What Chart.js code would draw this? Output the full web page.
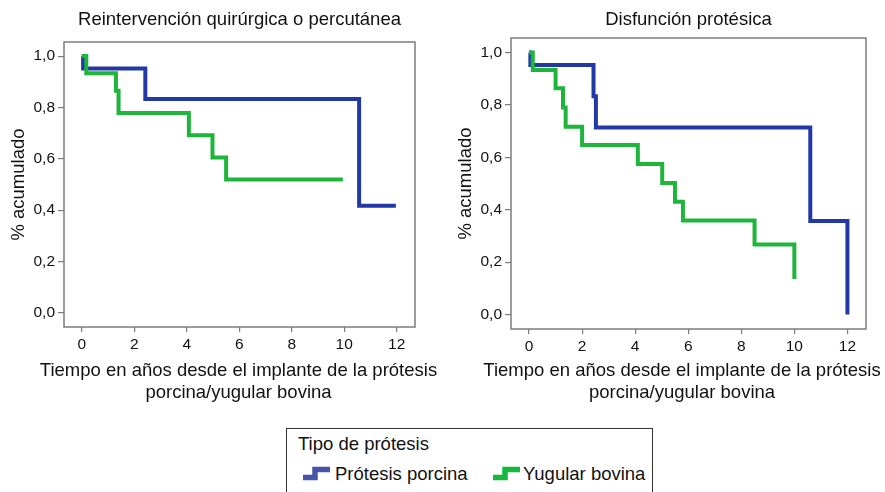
<!DOCTYPE html>
<html>
<head>
<meta charset="utf-8">
<script src="https://cdn.jsdelivr.net/npm/chart.js@4.4.1/dist/chart.umd.min.js"></script>
<style>
  body { margin: 0; background: #fff; }
  #wrap { position: relative; width: 885px; height: 492px; overflow: hidden;
          font-family: 'Liberation Sans', Arial, sans-serif; color: #111; }
  #wrap canvas { position: absolute; top: 0; }
  #legend { position: absolute; left: 286px; top: 428px; width: 365px; height: 90px;
            border: 1px solid #333; font-size: 18.5px; line-height: 22px; }
  #legend .lg-title { position: absolute; left: 11px; top: 3.6px; }
  #legend .lg-item { position: absolute; top: 33.6px; white-space: nowrap; }
  #legend svg { position: absolute; top: 37px; }
</style>
</head>
<body>
<div id="wrap">
  <canvas id="chart-reint" width="442" height="410" style="left:0px"></canvas>
  <canvas id="chart-disf" width="443" height="410" style="left:442px"></canvas>
  <div id="legend"><div class="lg-title">Tipo de prótesis</div></div>
</div>
<script>
const xTicks = [0, 2, 4, 6, 8, 10, 12];
const yTicks = [0, 0.2, 0.4, 0.6, 0.8, 1.0];
const seriesNames = ["Prótesis porcina", "Yugular bovina"];
const xTitleLines = ["Tiempo en años desde el implante de la prótesis", "porcina/yugular bovina"];

// Reintervención quirúrgica o percutánea
const reintPorcinaT = [0, 0.05, 2.42, 10.57, 11.97];
const reintPorcinaS = [1, 0.952, 0.833, 0.417, 0.417];
const reintYugularT = [0, 0.17, 1.3, 1.4, 4.08, 4.98, 5.5, 9.95];
const reintYugularS = [1, 0.933, 0.865, 0.778, 0.692, 0.605, 0.519, 0.519];

// Disfunción protésica
const disfPorcinaT = [0, 0.05, 2.43, 2.52, 10.6, 12.0];
const disfPorcinaS = [1, 0.952, 0.833, 0.714, 0.357, 0];
const disfYugularT = [0, 0.14, 1.0, 1.28, 1.38, 2.0, 4.1, 5.02, 5.5, 5.8, 8.5, 10.0];
const disfYugularS = [1, 0.933, 0.863, 0.79, 0.716, 0.647, 0.574, 0.502, 0.43, 0.359, 0.267, 0.136];

const BLUE = "#2238a5";
const GREEN = "#1fb53a";
const legendColors = ["#4655aa", "#14b93c"];
const TEXT = "#111";
const FRAME = "#7c7c7c";
const FONT = "'Liberation Sans', Arial, sans-serif";

Chart.defaults.font.family = FONT;
Chart.defaults.color = TEXT;

function kmPoints(t, s) {
    return t.map((x, i) => ({ x: x, y: s[i] }));
}

// box around the plot area
const framePlugin = {
    id: "frame",
    beforeDatasetsDraw(chart) {
        let a = chart.chartArea;
        let ctx = chart.ctx;
        ctx.save();
        ctx.strokeStyle = FRAME;
        ctx.lineWidth = 1.5;
        ctx.strokeRect(a.left, a.top, a.right - a.left, a.bottom - a.top);
        ctx.restore();
    }
};

// x axis title drawn without the scale's width limit (it is wider than the plot)
const xTitlePlugin = {
    id: "xTitle",
    afterDraw(chart, args, opts) {
        let ctx = chart.ctx;
        ctx.save();
        ctx.font = "18.5px " + FONT;
        ctx.fillStyle = TEXT;
        ctx.textAlign = "center";
        ctx.textBaseline = "middle";
        opts.lines.forEach((line, i) => {
            ctx.fillText(line, opts.x, opts.y + i * 22);
        });
        ctx.restore();
    }
};

function lineDataset(label, data, color, order) {
    return {
        label: label,
        data: data,
        borderColor: color,
        borderWidth: 4,
        stepped: "before",
        pointRadius: 0,
        fill: false,
        borderCapStyle: "butt",
        borderJoinStyle: "miter",
        order: order
    };
}

function makeChart(id, title, porcina, yugular, g) {
    return new Chart(id, {
        type: "line",
        data: {
            datasets: [
                lineDataset(seriesNames[0], porcina, BLUE, 1),
                lineDataset(seriesNames[1], yugular, GREEN, 0)
            ]
        },
        options: {
            responsive: false,
            animation: false,
            layout: { padding: { left: 0, right: g.padRight, top: 0, bottom: 0 } },
            plugins: {
                legend: { display: false },
                tooltip: { enabled: false },
                title: {
                    display: true,
                    text: title,
                    fullSize: false,
                    color: TEXT,
                    font: { size: 18.5, weight: "normal", lineHeight: 1.2 },
                    padding: { top: 9, bottom: g.titleGap }
                },
                xTitle: { lines: xTitleLines, x: g.xTitleX, y: 371 }
            },
            scales: {
                x: {
                    type: "linear",
                    min: -0.68,
                    max: 12.7,
                    afterBuildTicks: s => { s.ticks = xTicks.map(v => ({ value: v })); },
                    afterFit: s => { s.height = g.xAxisH; },
                    border: { display: false },
                    grid: { drawOnChartArea: false, drawTicks: true, tickLength: 5, color: FRAME, lineWidth: 1.2 },
                    ticks: { font: { size: 15.5 }, color: TEXT, padding: 3, maxRotation: 0, autoSkip: false }
                },
                y: {
                    min: -0.055,
                    max: 1.055,
                    afterBuildTicks: s => { s.ticks = yTicks.map(v => ({ value: v })); },
                    afterFit: s => { s.width = g.yAxisW; },
                    border: { display: false },
                    grid: { drawOnChartArea: false, drawTicks: true, tickLength: 6, color: FRAME, lineWidth: 1.2 },
                    ticks: {
                        font: { size: 15.5 },
                        color: TEXT,
                        padding: 3,
                        callback: v => v.toFixed(1).replace(".", ",")
                    },
                    title: {
                        display: true,
                        text: "% acumulado",
                        color: TEXT,
                        font: { size: 18.5, lineHeight: 1.19 },
                        padding: { top: g.yTitlePad, bottom: 0 }
                    }
                }
            }
        },
        plugins: [framePlugin, xTitlePlugin]
    });
}

makeChart("chart-reint", "Reintervención quirúrgica o percutánea",
    kmPoints(reintPorcinaT, reintPorcinaS), kmPoints(reintYugularT, reintYugularS),
    { padRight: 27, titleGap: 10.8, xAxisH: 83, yAxisW: 64, yTitlePad: 7.6, xTitleX: 238.5 });

makeChart("chart-disf", "Disfunción protésica",
    kmPoints(disfPorcinaT, disfPorcinaS), kmPoints(disfYugularT, disfYugularS),
    { padRight: 19, titleGap: 6.8, xAxisH: 81, yAxisW: 69, yTitlePad: 12.6, xTitleX: 240 });

// legend under both plots
const legendIconX = [16, 206];
const legendTextX = [48, 236];
const legend = document.getElementById("legend");
seriesNames.forEach((name, i) => {
    let svg = document.createElementNS("http://www.w3.org/2000/svg", "svg");
    svg.setAttribute("width", "28");
    svg.setAttribute("height", "15");
    svg.style.left = legendIconX[i] + "px";
    let path = document.createElementNS("http://www.w3.org/2000/svg", "path");
    path.setAttribute("d", "M0 11.5 H12 V3.5 H27");
    path.setAttribute("fill", "none");
    path.setAttribute("stroke", legendColors[i]);
    path.setAttribute("stroke-width", "5.5");
    path.setAttribute("stroke-linejoin", "miter");
    svg.appendChild(path);
    legend.appendChild(svg);

    let span = document.createElement("span");
    span.className = "lg-item";
    span.style.left = legendTextX[i] + "px";
    span.textContent = name;
    legend.appendChild(span);
});
</script>
</body>
</html>
